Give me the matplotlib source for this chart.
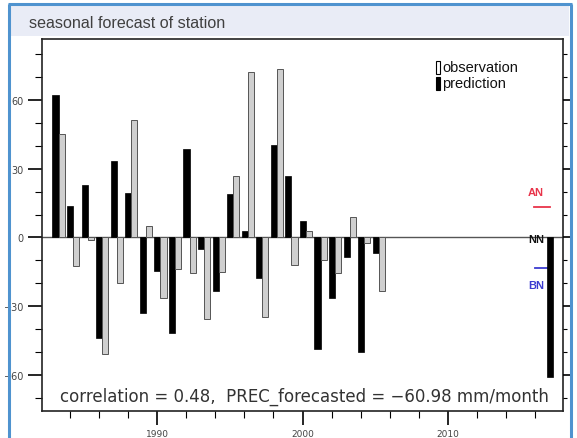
import matplotlib
matplotlib.use("Agg")
import matplotlib.pyplot as plt
from matplotlib.patches import Rectangle
from matplotlib.lines import Line2D
import numpy as np

years = [1983, 1984, 1985, 1986, 1987, 1988, 1989, 1990, 1991, 1992, 1993, 1994,
         1995, 1996, 1997, 1998, 1999, 2000, 2001, 2002, 2003, 2004, 2005]
prediction = [62, 13.6, 22.7, -43.9, 33.5, 19.3, -33, -14.5, -41.5, 38.8, -5.2, -23.2,
              18.8, 2.9, -17.8, 40.4, 27, 7, -48.6, -26.5, -8.7, -50, -6.7]
observation = [45, -12.3, -1.2, -50.9, -20, 51.4, 4.8, -26.2, -13.8, -15.6, -35.5, -14.9,
               26.7, 72, -34.5, 73.3, -12, 2.7, -9.9, -15.7, 9, -2.2, -23.2]
forecast_year = 2017
forecast_value = -60.98
an_threshold = 13.5
bn_threshold = -13.5
correlation = 0.48
yticks = [-60, -30, 0, 30, 60]
xticks = [1990, 2000, 2010]

fig = plt.figure(figsize=(5.77, 4.39), dpi=100)

W, H = 577, 439
def fx(x): return x / W
def fy(y): return 1 - y / H

# panel frame: header band + blue border (left, top, right)
fig.patches.append(Rectangle((fx(10), fy(37)), fx(569 - 10), fy(7) - fy(37),
                             transform=fig.transFigure, facecolor="#e9ecf6",
                             edgecolor="none", zorder=-6))
border = dict(transform=fig.transFigure, color="#4f93cf", linewidth=2.2,
              solid_capstyle="butt")
fig.add_artist(Line2D([fx(8.5), fx(8.5)], [0, fy(5)], **border))
fig.add_artist(Line2D([fx(7.5), fx(571.5)], [fy(5), fy(5)], **border))
fig.add_artist(Line2D([fx(570.5), fx(570.5)], [0, fy(5)], **border))
fig.text(fx(29), fy(23), "seasonal forecast of station", fontsize=11.6,
         family="Liberation Sans", color="#404040", va="center", ha="left")

ax = fig.add_axes([fx(42), fy(412), fx(563 - 42), fy(40) - fy(412)])

bw = 0.42
yrs = np.array(years)
ax.bar(yrs + 0.03, prediction, width=bw, color="black", edgecolor="black",
       linewidth=0.5, zorder=3)
ax.bar(yrs + 0.03 + bw, observation, width=bw, color="#cfcfcf", edgecolor="#555555",
       linewidth=0.7, zorder=3)
ax.bar([forecast_year + 0.03], [forecast_value], width=bw, color="black",
       edgecolor="black", linewidth=0.5, zorder=3)

ax.axhline(0, color="#555555", linewidth=1.0, zorder=2)

ax.set_xlim(1982.1, 2017.9)
ax.set_ylim(-75.7, 86.6)

# thresholds
ax.plot([2015.9, 2017.0], [an_threshold, an_threshold], color="#e8344a", lw=1.3)
ax.text(2016.0, 20.0, "AN", color="#e8344a", fontsize=8, fontweight="bold",
        ha="center", va="center", family="Liberation Sans")
ax.plot([2015.95, 2016.95], [bn_threshold, bn_threshold], color="#3b3bd0", lw=1.3)
ax.text(2016.05, -20.7, "BN", color="#3b3bd0", fontsize=8, fontweight="bold",
        ha="center", va="center", family="Liberation Sans")
ax.text(2016.6, -0.8, "NN", color="#111111", fontsize=8, fontweight="bold",
        ha="right", va="center", family="Liberation Sans")

# legend
ax.add_patch(Rectangle((0.757, 0.906), 0.006, 0.036, transform=ax.transAxes,
                       facecolor="white", edgecolor="black", lw=0.8, zorder=4))
ax.add_patch(Rectangle((0.757, 0.863), 0.006, 0.036, transform=ax.transAxes,
                       facecolor="black", edgecolor="black", lw=0.8, zorder=4))
ax.text(0.768, 0.925, "observation", transform=ax.transAxes, fontsize=10.5,
        family="Liberation Sans", va="center", ha="left", color="#111111")
ax.text(0.768, 0.882, "prediction", transform=ax.transAxes, fontsize=10.5,
        family="Liberation Sans", va="center", ha="left", color="#111111")

ax.text(0.503, 0.040,
        "correlation = %.2f,  PREC_forecasted = \u2212%.2f mm/month" % (correlation, -forecast_value),
        transform=ax.transAxes, fontsize=12, ha="center", va="center", color="#333333")

# axes styling
for s in ax.spines.values():
    s.set_color("#222222")
    s.set_linewidth(1.2)
ax.set_yticks(yticks)
ax.set_yticks(np.arange(-70, 81, 10), minor=True)
ax.set_xticks(xticks)
ax.set_xticks(np.arange(1984, 2018, 2), minor=True)
ax.tick_params(axis="y", which="major", direction="out", length=10, width=1.2,
               labelsize=7, labelcolor="#444444", pad=3)
ax.tick_params(axis="y", which="minor", direction="out", length=5, width=0.8)
ax.tick_params(axis="x", which="major", direction="out", length=10, width=1.2,
               labelsize=6.5, labelcolor="#444444", pad=3)
ax.tick_params(axis="x", which="minor", direction="out", length=5, width=0.8)

# short ticks on right side
axr = ax.twinx()
axr.set_ylim(ax.get_ylim())
axr.set_yticks(yticks)
axr.set_yticks(np.arange(-70, 81, 10), minor=True)
axr.tick_params(axis="y", which="major", direction="out", length=6, width=1.2,
                labelright=False)
axr.tick_params(axis="y", which="minor", direction="out", length=3, width=0.8)
for s in axr.spines.values():
    s.set_visible(False)

fig.savefig("out.png", dpi=100)
